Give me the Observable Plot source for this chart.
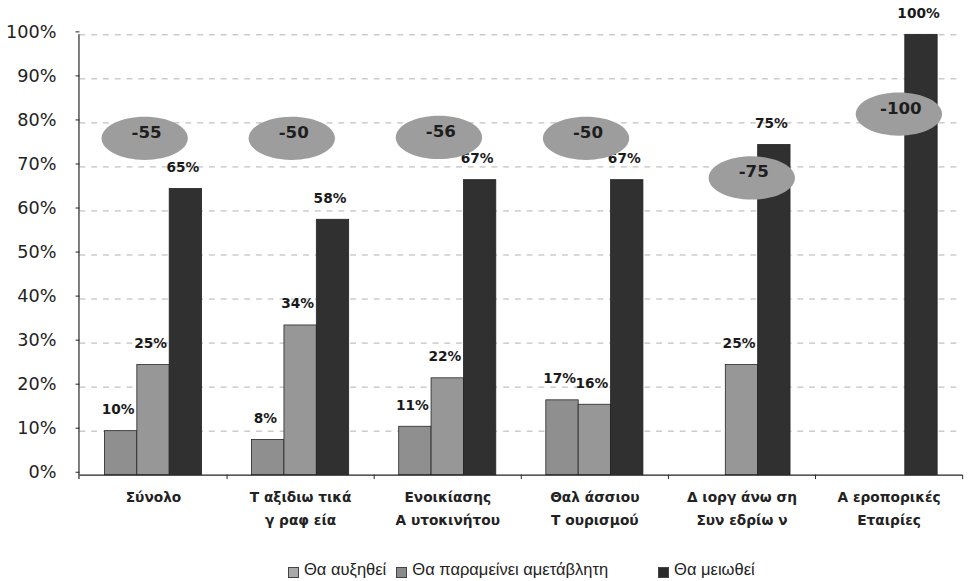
<!DOCTYPE html>
<html><head><meta charset="utf-8">
<script src="https://cdn.jsdelivr.net/npm/d3@7"></script>
<script src="https://cdn.jsdelivr.net/npm/@observablehq/plot@0.6"></script>
<style>
html,body{margin:0;padding:0;background:#fff;overflow:hidden;}
body{width:971px;height:581px;position:relative;}
#chart svg{display:block;}
#legend{position:absolute;left:288px;top:560px;font-family:"Liberation Sans",Arial,sans-serif;font-size:16.5px;color:#222;display:flex;align-items:flex-end;white-space:nowrap;}
#legend .item{display:flex;align-items:flex-end;}
#legend .sw{width:9px;height:9px;border:1px solid #444;margin-right:5px;margin-bottom:1px;}
</style></head><body>
<div id="chart"></div>
<div id="legend"></div>
<script>
const categories = ["Σύνολο", "Τ αξιδιω τικά\nγ ραφ εία", "Ενοικίασης\nΑ υτοκινήτου", "Θαλ άσσιου\nΤ ουρισμού", "Δ ιοργ άνω ση\nΣυν εδρίω ν", "Α εροπορικές\nΕταιρίες"];
const seriesNames = ["Θα αυξηθεί", "Θα παραμείνει αμετάβλητη", "Θα μειωθεί"];
const increase = [10, 8, 11, 17, null, null];
const unchanged = [25, 34, 22, 16, 25, null];
const decrease = [65, 58, 67, 67, 75, 100];
const balance = [-55, -50, -56, -50, -75, -100];
const balanceLevel = [76.5, 76.5, 76.7, 76.5, 67.5, 82];
const yTicks = [0, 10, 20, 30, 40, 50, 60, 70, 80, 90, 100];

const seriesColors = ["#8f8f8f", "#979797", "#303030"];
const legendColors = ["#a8a8a8", "#8a8a8a", "#2a2a2a"];

const values = [increase, unchanged, decrease];
const rows = [];
values.forEach((arr, i) => arr.forEach((v, j) => {
  if (v != null) rows.push({category: categories[j], series: seriesNames[i], si: i, value: v});
}));
const notes = balance.map((b, j) => ({category: categories[j], balance: b, level: balanceLevel[j], j}));

const step = 150, barW = 33, groupPad = (step - 3 * barW) / 2;

const ellipse = {
  draw(ctx, size) {
    const r = Math.sqrt(size / Math.PI);
    const rx = r * 2, ry = r, k = 0.5523;
    ctx.moveTo(rx, 0);
    ctx.bezierCurveTo(rx, ry * k, rx * k, ry, 0, ry);
    ctx.bezierCurveTo(-rx * k, ry, -rx, ry * k, -rx, 0);
    ctx.bezierCurveTo(-rx, -ry * k, -rx * k, -ry, 0, -ry);
    ctx.bezierCurveTo(rx * k, -ry, rx, -ry * k, rx, 0);
    ctx.closePath();
  }
};

const barMarks = [];
const labelMarks = [];
seriesNames.forEach((s, i) => {
  const data = rows.filter(d => d.si === i);
  const left = groupPad + i * barW;
  barMarks.push(Plot.barY(data, {
    x: "category", y: "value", fill: seriesColors[i], stroke: "#222", strokeWidth: 0.8,
    insetLeft: left, insetRight: step - left - barW
  }));
  labelMarks.push(Plot.text(data, {
    x: "category", y: "value", text: d => d.value + "%",
    dx: (i - 1) * barW - 3, dy: -22, fontWeight: "bold", fontSize: 14, fill: "#1a1a1a"
  }));
});

const noteGroups = [notes.filter(d => d.j < 4), notes.filter(d => d.j >= 4)];
const noteDx = [-9, 10];
const noteMarks = [];
noteGroups.forEach((g, k) => {
  noteMarks.push(Plot.dot(g, {x: "category", y: "level", r: 22, symbol: ellipse, fill: "#9d9d9d", stroke: "none", dx: noteDx[k]}));
  noteMarks.push(Plot.text(g, {x: "category", y: "level", text: d => String(d.balance), dx: noteDx[k] + 2, dy: -6, fontWeight: "bold", fontSize: 17, fill: "#1e1e1e"}));
});

const chart = Plot.plot({
  width: 990,
  height: 540,
  marginLeft: 81,
  marginRight: 9,
  marginTop: 35,
  marginBottom: 56,
  style: {fontFamily: "'DejaVu Sans', Verdana, sans-serif", background: "#fff", color: "#222"},
  x: {domain: categories, padding: 0},
  y: {domain: [0, 100]},
  marks: [
    Plot.ruleY(yTicks.filter(d => d > 0), {stroke: "#b0b0b0", strokeDasharray: "6,6", strokeWidth: 1}),
    ...barMarks,
    Plot.ruleY([0], {stroke: "#222", strokeWidth: 1.2}),
    Plot.ruleX([categories[0]], {dx: -step / 2 - 1, y1: -1, y2: 100, stroke: "#222", strokeWidth: 1.2}),
    Plot.ruleX(categories, {dx: step / 2, y1: 0, y2: -1, stroke: "#222"}),
    Plot.axisY({ticks: yTicks, tickFormat: d => d + "%", tickSize: 4, tickPadding: 20, fontSize: 18, dy: -3, label: null}),
    Plot.axisX({tickSize: 0, tickPadding: 11, fontSize: 14, fontWeight: "bold", lineHeight: 1.65, label: null}),
    ...labelMarks,
    ...noteMarks
  ]
});
document.getElementById("chart").appendChild(chart);

const legend = document.getElementById("legend");
const gaps = [10, 50, 0];
seriesNames.forEach((s, i) => {
  const item = document.createElement("div");
  item.className = "item";
  item.style.marginRight = gaps[i] + "px";
  const sw = document.createElement("div");
  sw.className = "sw";
  sw.style.background = legendColors[i];
  const t = document.createElement("span");
  t.textContent = s;
  item.appendChild(sw);
  item.appendChild(t);
  legend.appendChild(item);
});
</script>
</body></html>
